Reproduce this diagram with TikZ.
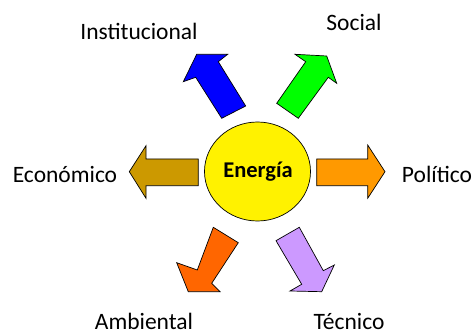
\documentclass[tikz,border=0pt]{standalone}
\usepackage{fontspec}
\setmainfont{Carlito}
\usetikzlibrary{shapes.geometric}
\begin{document}
\begin{tikzpicture}[x=1pt,y=-1pt,
  arr/.style={draw=black,line width=0.7pt,line join=miter},
  lbl/.style={font=\fontsize{23.5}{28}\selectfont,inner sep=0pt}]
\useasboundingbox (0,0) rectangle (475,334);
% centre
\node[draw=black,line width=0.7pt,fill=yellow,ellipse,minimum width=106pt,minimum height=99pt,inner sep=0pt] (c) at (257.5,171.5) {};
\node[font=\fontsize{22.5}{27}\selectfont\bfseries] (en) at (258,172) {Energía};
% left arrow
\filldraw[arr,fill={rgb,255:red,204;green,153;blue,0}] (129.3,171.7) -- (146,145.7) -- (146,159) -- (198.3,159) -- (198.3,185.7) -- (146,185.7) -- (146,198.3) -- cycle;
% right arrow
\filldraw[arr,fill={rgb,255:red,255;green,153;blue,0}] (316.7,159) -- (367.7,159) -- (367.7,145) -- (385,171.7) -- (367.7,198.3) -- (367.7,185.7) -- (316.7,185.7) -- cycle;
% blue
\filldraw[arr,fill=blue] (196.7,54.3) -- (227.7,54.3) -- (218.3,61.7) -- (245.7,106) -- (221.7,118.3) -- (195.7,77.3) -- (183.3,81.7) -- cycle;
% green
\filldraw[arr,fill={rgb,255:red,0;green,255;blue,0}] (295,54.3) -- (326.7,56) -- (336.7,83.3) -- (328.3,77.3) -- (298.3,118.3) -- (276.7,103.3) -- (305.7,61.7) -- cycle;
% orange-red
\filldraw[arr,fill={rgb,255:red,255;green,102;blue,0}] (213.3,227.3) -- (238.3,242.7) -- (211.7,283.3) -- (220,291.7) -- (188.3,291.7) -- (176.7,262.7) -- (197.3,270) -- cycle;
% purple
\filldraw[arr,fill={rgb,255:red,204;green,153;blue,255}] (276,240.7) -- (299.3,227.3) -- (323.3,270.7) -- (334.3,265) -- (321.7,291.7) -- (290,291) -- (301.7,284.3) -- cycle;
% labels
\node[lbl] (eco) at (65,174) {Económico};
\node[lbl] (pol) at (437,174) {Político};
\node[lbl] (ins) at (139,31) {Institucional};
\node[lbl] (soc) at (354,22) {Social};
\node[lbl,anchor=base] (amb) at (144,329.5) {Ambiental};
\node[lbl,anchor=base] (tec) at (349,329.5) {Técnico};
\end{tikzpicture}
\end{document}
